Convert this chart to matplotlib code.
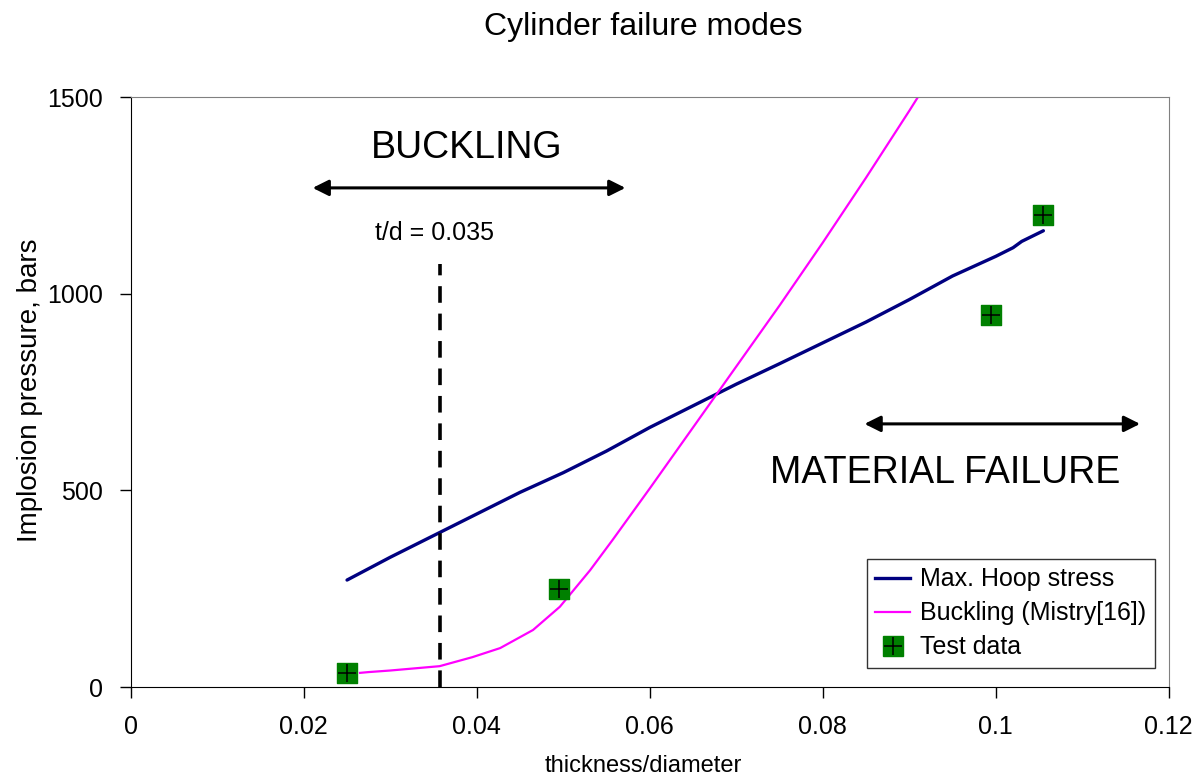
import numpy as np
import matplotlib
matplotlib.use("Agg")
import matplotlib.pyplot as plt
from matplotlib.ticker import FormatStrFormatter
from matplotlib.lines import Line2D

plt.rcParams['font.family'] = ['Liberation Sans', 'DejaVu Sans']

# Max. hoop stress curve (t/d, bars)
hoop_td = [0.025, 0.030, 0.035, 0.040, 0.045, 0.050, 0.055, 0.060, 0.065,
           0.070, 0.075, 0.080, 0.085, 0.090, 0.095, 0.100, 0.102, 0.103, 0.1055]
hoop_p = [272, 330, 385, 440, 495, 545, 600, 660, 715,
          770, 822, 875, 928, 985, 1045, 1095, 1117, 1133, 1160]

# Buckling (Mistry[16])
buck_td = [0.0265, 0.0275, 0.030, 0.0357, 0.0395, 0.0427, 0.0465, 0.0496, 0.0531,
           0.0557, 0.060, 0.065, 0.070, 0.075, 0.080, 0.085, 0.090, 0.092]
buck_p = [36, 38, 42, 53, 76, 99, 145, 204, 297,
          374, 505, 660, 815, 970, 1130, 1295, 1465, 1535]

# Test data
test_td = [0.025, 0.0495, 0.0995, 0.1055]
test_p = [35, 250, 945, 1200]

td_limit = 0.0357
td_limit_top = 1075

fig = plt.figure(figsize=(12, 7.8), dpi=100)
ax = fig.add_axes([0.109, 0.1192, 0.865, 0.7564])

ax.plot(hoop_td, hoop_p, color='#000080', lw=2.4, solid_capstyle='round')
ax.plot(buck_td, buck_p, color='#FF00FF', lw=1.6)
ax.scatter(test_td, test_p, marker='s', s=200, color='#008000', zorder=4)
ax.scatter(test_td, test_p, marker='+', s=170, color='black', lw=1.1, zorder=5)

dash, = ax.plot([td_limit, td_limit], [0, td_limit_top], color='black', lw=2.6)
dash.set_dashes([4.6, 3.0])

ax.annotate('', xy=(0.0207, 1269), xytext=(0.0575, 1269),
            arrowprops=dict(arrowstyle='<|-|>', color='black', lw=2.2, mutation_scale=24))
ax.annotate('', xy=(0.0845, 669), xytext=(0.117, 669),
            arrowprops=dict(arrowstyle='<|-|>', color='black', lw=2.2, mutation_scale=24))
ax.text(0.0388, 1370, 'BUCKLING', fontsize=27, ha='center', va='center')
ax.text(0.0941, 544, 'MATERIAL FAILURE', fontsize=27, ha='center', va='center')
ax.text(0.0351, 1154, 't/d = 0.035', fontsize=18, ha='center', va='center')

ax.set_xlim(0, 0.12)
ax.set_ylim(0, 1500)
ax.set_xticks([0, 0.02, 0.04, 0.06, 0.08, 0.1, 0.12])
ax.set_yticks([0, 500, 1000, 1500])
ax.xaxis.set_major_formatter(FormatStrFormatter('%g'))
ax.tick_params(axis='both', direction='out', length=8, width=1, labelsize=18, pad=12)
for s in ['top', 'right']:
    ax.spines[s].set_color('#808080')
for s in ['left', 'bottom']:
    ax.spines[s].set_color('black')

handles = [
    Line2D([], [], color='#000080', lw=2.4),
    Line2D([], [], color='#FF00FF', lw=1.6),
    (Line2D([], [], marker='s', ms=14, color='#008000', ls='none'),
     Line2D([], [], marker='+', ms=13, color='black', mew=1.1, ls='none')),
]
leg = ax.legend(handles, ['Max. Hoop stress', 'Buckling (Mistry[16])', 'Test data'],
                loc='lower right', bbox_to_anchor=(0.987, 0.032), fontsize=18,
                frameon=True, fancybox=False, handlelength=1.4, handletextpad=0.4,
                borderpad=0.35, labelspacing=0.4, borderaxespad=0)
leg.get_frame().set_edgecolor('black')
leg.get_frame().set_linewidth(1.0)

fig.text(0.536, 0.965, 'Cylinder failure modes', fontsize=23, ha='center', va='center')
fig.text(0.536, 0.018, 'thickness/diameter', fontsize=17, ha='center', va='center')
fig.text(0.025, 0.5, 'Implosion pressure, bars', fontsize=20, ha='center', va='center',
         rotation=90)

fig.savefig('out.png', dpi=100)
